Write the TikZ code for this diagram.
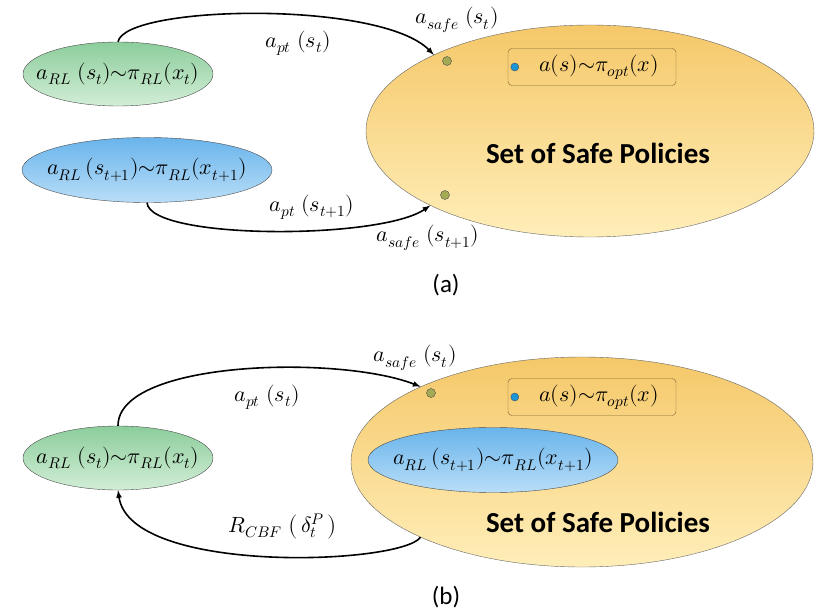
\documentclass[tikz,border=0pt]{standalone}
\usepackage{fontspec}
\usepackage{unicode-math}
\setmainfont{Carlito}
\setmathfont{Latin Modern Math}
\usetikzlibrary{shapes.geometric}

\definecolor{greenTop}{RGB}{140,205,155}
\definecolor{greenBot}{RGB}{210,238,215}
\definecolor{blueTop}{RGB}{105,180,235}
\definecolor{blueBot}{RGB}{185,222,248}
\definecolor{safeTop}{RGB}{245,200,105}
\definecolor{safeBot}{RGB}{255,238,185}
\definecolor{oliveDot}{RGB}{165,170,85}
\definecolor{cyanDot}{RGB}{25,150,215}
\definecolor{boxLine}{RGB}{125,100,50}

\tikzset{
  act/.style={ellipse, draw=black!70, thin, inner sep=-60pt,
    font=\fontsize{22}{26}\selectfont},
  greenact/.style={act, minimum width=190, minimum height=64,
    top color=greenTop, bottom color=greenBot},
  blueact/.style={act, minimum width=250, minimum height=65,
    top color=blueTop, bottom color=blueBot},
  safeset/.style={ellipse, draw=black!60, thin, inner sep=0pt,
    top color=safeTop, bottom color=safeBot},
  setlabel/.style={font=\bfseries\fontsize{29}{33}\selectfont},
  optbox/.style={draw=boxLine, rounded corners=4,
    minimum width=168, minimum height=37, inner sep=0pt,
    font=\fontsize{22}{26}\selectfont},
  safedot/.style={circle, draw=black!70, fill=oliveDot, minimum size=9, inner sep=0pt},
  optdot/.style={circle, draw=black!70, fill=cyanDot, minimum size=8, inner sep=0pt},
  lab/.style={font=\fontsize{22}{26}\selectfont},
  caption/.style={font=\fontsize{25}{29}\selectfont},
  flow/.style={line width=1.6pt, -latex}
}

\begin{document}
\begin{tikzpicture}[x=1pt,y=-1pt]
\useasboundingbox (0,0) rectangle (835,612);

% (a)
\node[safeset, minimum width=448, minimum height=212] (safeA) at (590,131) {};
\node[setlabel] (setA) at (598,153) {Set of Safe Policies};
\node[optbox] (optA) at (592,67) {\hspace{14pt}$a(s){\sim}\pi_{opt}(x)$};
\node[optdot] (optdotA) at ([xshift=7]optA.west) {};
\node[safedot] (dotA1) at (447,61) {};
\node[safedot] (dotA2) at (445,195) {};

\node[greenact] (rlA) at (118,74) {$a_{RL}\;(s_t){\sim}\pi_{RL}(x_t)$};
\node[blueact] (rlnext) at (147,170) {$a_{RL}\,(s_{t+1}){\sim}\pi_{RL}(x_{t+1})$};

\draw[flow] (rlA.north) .. controls (125,5) and (380,0) .. (safeA.154);
\draw[flow] (rlnext.south) .. controls (150,240) and (380,240) .. (safeA.-155);

\node[lab] (ptA) at (298,43) {$a_{pt}\;(s_t)$};
\node[lab] (safeA1) at (457,20) {$a_{safe}\;(s_t)$};
\node[lab] (ptA2) at (312,207) {$a_{pt}\;(s_{t+1})$};
\node[lab] (safeA2) at (428,238) {$a_{safe}\;(s_{t+1})$};
\node[caption] (capA) at (446,285) {(a)};

% (b)
\node[safeset, minimum width=462, minimum height=210] (safeB) at (582,462) {};
\node[setlabel] (setB) at (598,522) {Set of Safe Policies};
\node[optbox] (optB) at (592,397) {\hspace{14pt}$a(s){\sim}\pi_{opt}(x)$};
\node[optdot] (optdotB) at ([xshift=7]optB.west) {};
\node[safedot] (dotB1) at (431,393) {};
\node[blueact] (rlinner) at (493,460) {$a_{RL}\,(s_{t+1}){\sim}\pi_{RL}(x_{t+1})$};

\node[greenact] (rlB) at (118,458) {$a_{RL}\;(s_t){\sim}\pi_{RL}(x_t)$};

\draw[flow] (rlB.north) .. controls (118,360) and (340,355) .. (safeB.155);
\draw[flow] (safeB.-155) .. controls (400,565) and (130,575) .. (rlB.south);

\node[lab] (safeB1) at (415,358) {$a_{safe}\;(s_t)$};
\node[lab] (ptB) at (267,397) {$a_{pt}\;(s_t)$};
\node[lab] (cbf) at (283,527) {$R_{CBF}\;\bigl(\,\delta_t^P\,\bigr)$};
\node[caption] (capB) at (446,597) {(b)};
\end{tikzpicture}
\end{document}
